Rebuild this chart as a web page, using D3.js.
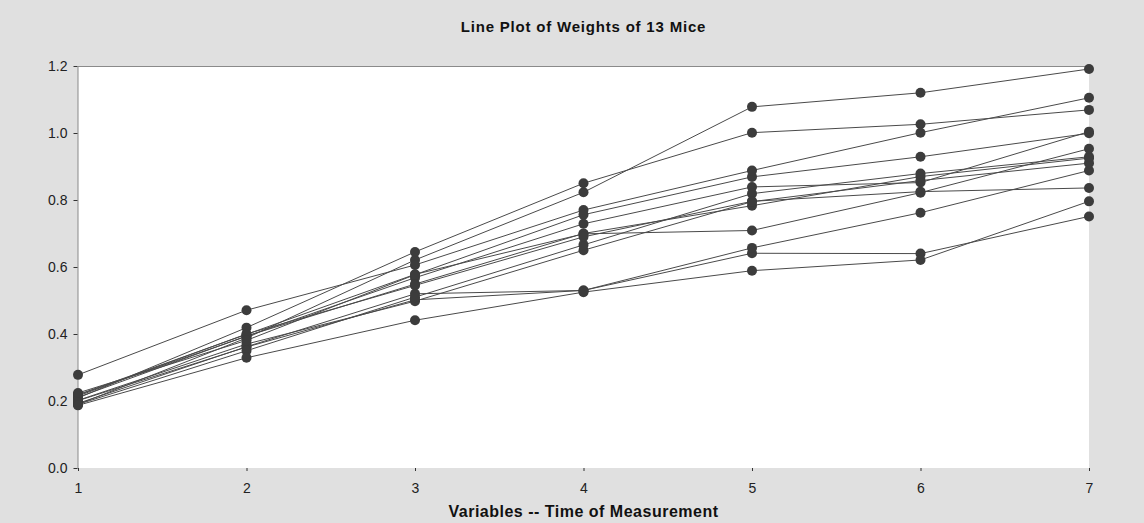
<!DOCTYPE html>
<html>
<head>
<meta charset="utf-8">
<script src="https://cdn.jsdelivr.net/npm/d3@7"></script>
<style>
  body { margin: 0; background: #e0e0e0; }
  svg { display: block; font-family: Arial, "Liberation Sans", sans-serif; }
</style>
</head>
<body>
<div id="chart"></div>
<script>
// Weights of 13 mice at 7 measurement times
var times = [1, 2, 3, 4, 5, 6, 7];
var yTicks = [0.0, 0.2, 0.4, 0.6, 0.8, 1.0, 1.2];

var mouse1  = [0.190, 0.388, 0.621, 0.823, 1.078, 1.120, 1.191];
var mouse2  = [0.218, 0.393, 0.568, 0.729, 0.839, 0.852, 1.004];
var mouse3  = [0.211, 0.394, 0.549, 0.700, 0.783, 0.870, 0.925];
var mouse4  = [0.209, 0.419, 0.645, 0.850, 1.001, 1.026, 1.069];
var mouse5  = [0.193, 0.362, 0.520, 0.530, 0.641, 0.640, 0.751];
var mouse6  = [0.201, 0.361, 0.502, 0.530, 0.657, 0.762, 0.888];
var mouse7  = [0.202, 0.370, 0.498, 0.650, 0.795, 0.858, 0.910];
var mouse8  = [0.190, 0.350, 0.510, 0.666, 0.819, 0.879, 0.929];
var mouse9  = [0.219, 0.399, 0.578, 0.699, 0.709, 0.822, 0.953];
var mouse10 = [0.215, 0.400, 0.545, 0.690, 0.796, 0.825, 0.836];
var mouse11 = [0.224, 0.381, 0.577, 0.756, 0.869, 0.929, 0.999];
var mouse12 = [0.187, 0.329, 0.441, 0.525, 0.589, 0.621, 0.796];
var mouse13 = [0.278, 0.471, 0.606, 0.770, 0.888, 1.001, 1.105];

var mice = [mouse1, mouse2, mouse3, mouse4, mouse5, mouse6, mouse7,
            mouse8, mouse9, mouse10, mouse11, mouse12, mouse13];

var svgWidth = 1144, svgHeight = 523;
var margin = {top: 66, right: 55, bottom: 55, left: 78};
var width = svgWidth - margin.left - margin.right;
var height = svgHeight - margin.top - margin.bottom;

var x = d3.scaleLinear().domain([1, 7]).range([0, width]);
var y = d3.scaleLinear().domain([0, 1.2]).range([height, 0]);

var svg = d3.select("#chart").append("svg")
    .attr("width", svgWidth)
    .attr("height", svgHeight);

svg.append("rect")
    .attr("width", svgWidth)
    .attr("height", svgHeight)
    .attr("fill", "#e0e0e0");

var g = svg.append("g")
    .attr("transform", "translate(" + margin.left + "," + margin.top + ")");

// plot area
g.append("rect")
    .attr("width", width)
    .attr("height", height)
    .attr("fill", "#ffffff");

// top border
g.append("line")
    .attr("x1", 0).attr("x2", width)
    .attr("y1", 0.5).attr("y2", 0.5)
    .attr("stroke", "#8a8a8a");

// title
svg.append("text")
    .attr("x", margin.left + width / 2)
    .attr("y", 32)
    .attr("text-anchor", "middle")
    .style("font-size", "15px")
    .style("font-weight", "bold")
    .style("letter-spacing", "0.8px")
    .style("fill", "#111")
    .text("Line Plot of Weights of 13 Mice");

// y axis
var yAxis = g.append("g")
    .attr("transform", "translate(-0.5,0)")
    .call(d3.axisLeft(y).tickValues(yTicks).tickFormat(d3.format(".1f"))
      .tickSize(4).tickSizeOuter(0).tickPadding(6));
yAxis.select(".domain").attr("stroke", "#8a8a8a");
yAxis.selectAll(".tick line").attr("stroke", "#333");
yAxis.selectAll("text").style("font-size", "14px").style("fill", "#222");

// x axis
var xAxis = g.append("g")
    .attr("transform", "translate(0," + height + ")")
    .call(d3.axisBottom(x).tickValues(times).tickFormat(d3.format("d"))
      .tickSize(3).tickSizeOuter(0).tickPadding(12));
xAxis.select(".domain").remove();
xAxis.selectAll(".tick line").attr("stroke", "#333");
xAxis.selectAll("text").style("font-size", "14px").style("fill", "#222");

svg.append("text")
    .attr("x", margin.left + width / 2)
    .attr("y", 517)
    .attr("text-anchor", "middle")
    .style("font-size", "16px")
    .style("font-weight", "bold")
    .style("letter-spacing", "0.5px")
    .style("fill", "#111")
    .text("Variables -- Time of Measurement");

// lines
var line = d3.line()
    .x(function(d, i) { return x(times[i]); })
    .y(function(d) { return y(d); });

g.selectAll(".mouse")
    .data(mice)
  .enter().append("path")
    .attr("class", "mouse")
    .attr("d", line)
    .attr("fill", "none")
    .attr("stroke", "#4a4a4a")
    .attr("stroke-width", 1);

// points
mice.forEach(function(m) {
  g.selectAll(null)
      .data(m)
    .enter().append("circle")
      .attr("cx", function(d, i) { return x(times[i]); })
      .attr("cy", function(d) { return y(d); })
      .attr("r", 5)
      .attr("fill", "#3c3c3c");
});
</script>
</body>
</html>
